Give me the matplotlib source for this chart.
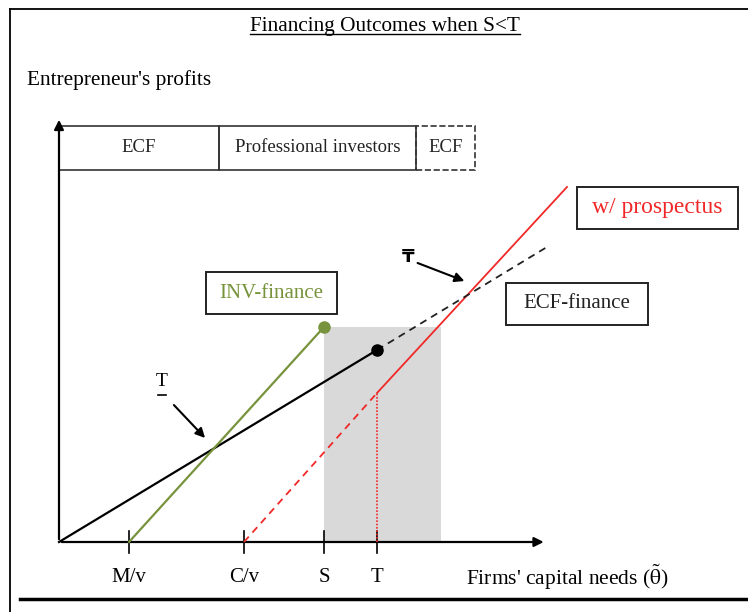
import matplotlib
matplotlib.use('Agg')
import matplotlib.pyplot as plt
from matplotlib.patches import Rectangle
from matplotlib.lines import Line2D

plt.rcParams['mathtext.fontset'] = 'stix'
serif = 'Liberation Serif'

# tick positions on the capital-needs axis
tick_names = ['M/v', 'C/v', 'S', 'T']
tick_pos = [1.4, 3.7, 5.3, 6.36]

# line segments (x, y)
black_x = [0, 6.36]
black_y = [0, 3.84]
black_dash_x = [6.36, 9.76]
black_dash_y = [3.84, 5.9]
green_x = [1.4, 5.3]
green_y = [0, 4.3]
red_dash_x = [3.7, 6.36]
red_dash_y = [0, 2.98]
red_x = [6.36, 10.16]
red_y = [2.98, 7.1]

# shaded region
shade_x = [5.3, 7.64]
shade_top = 4.3

# band of financing regimes at the top
band_names = ['ECF', 'Professional investors', 'ECF']
band_edges = [0, 3.2, 7.14, 8.32]
band_y = [7.44, 8.32]

green = '#77933c'
red = '#f02828'

fig = plt.figure(figsize=(7.48, 6.12), dpi=100)
ax = fig.add_axes([0, 0, 1, 1])
ax.set_xlim(-1.18, 13.78)
ax.set_ylim(-1.4, 10.84)
ax.axis('off')

# frame of the picture
fig.add_artist(Line2D([10/748, 1], [1 - 9/612, 1 - 9/612], color='black', lw=1.3))
fig.add_artist(Line2D([10/748, 10/748], [0, 1 - 9/612], color='black', lw=1.3))
fig.add_artist(Line2D([20/748, 1], [13/612, 13/612], color='black', lw=2.5))

# title with underline
title = fig.text(0.515, 1 - 26/612, 'Financing Outcomes when S<T', ha='center', va='center',
                 family=serif, fontsize=15.3)
fig.canvas.draw()
bb = title.get_window_extent().transformed(fig.transFigure.inverted())
fig.add_artist(Line2D([bb.x0, bb.x1], [bb.y0 + 0.002, bb.y0 + 0.002], color='black', lw=1))

fig.text(27/748, 1 - 80/612, "Entrepreneur's profits", ha='left', va='center',
         family=serif, fontsize=15.3)

# shaded area
ax.add_patch(Rectangle((shade_x[0], 0), shade_x[1] - shade_x[0], shade_top,
                       facecolor='#d9d9d9', edgecolor='none', zorder=1))

# axes arrows
ax.annotate('', xy=(0, 8.5), xytext=(0, 0),
            arrowprops=dict(arrowstyle='-|>', color='black', lw=1.6, mutation_scale=14), zorder=3)
ax.annotate('', xy=(9.75, 0), xytext=(0, 0),
            arrowprops=dict(arrowstyle='-|>', color='black', lw=1.6, mutation_scale=14), zorder=3)

# ticks and their labels
for name, xp in zip(tick_names, tick_pos):
    ax.plot([xp, xp], [-0.22, 0.22], color='black', lw=1.2, zorder=3)
    ax.text(xp, -0.72, name, ha='center', va='center', family=serif, fontsize=15)
ax.text(8.14, -0.7, r"Firms' capital needs ($\mathrm{\tilde{\theta}}$)", ha='left', va='center',
        family=serif, fontsize=15.5)

# regime band
for i, name in enumerate(band_names):
    ls = '--' if i == 2 else '-'
    ax.add_patch(Rectangle((band_edges[i], band_y[0]), band_edges[i + 1] - band_edges[i],
                           band_y[1] - band_y[0], facecolor='none', edgecolor='#333333',
                           lw=1.2, ls=ls, zorder=2))
    ax.text((band_edges[i] + band_edges[i + 1]) / 2, (band_y[0] + band_y[1]) / 2, name,
            ha='center', va='center', family=serif, fontsize=13.5, color='#222222')

# lines
ax.plot(red_dash_x, red_dash_y, color=red, lw=1.3, ls=(0, (4, 3)), zorder=3)
ax.plot(red_x, red_y, color=red, lw=1.3, zorder=3)
ax.plot([tick_pos[3], tick_pos[3]], [0, red_y[0]], color=red, lw=1.2, ls=(0, (1, 1)), zorder=3)
ax.plot(black_dash_x, black_dash_y, color='#222222', lw=1.3, ls=(0, (4, 3)), zorder=3)
ax.plot(black_x, black_y, color='black', lw=1.6, zorder=4)
ax.plot(black_x[-1], black_y[-1], 'o', color='black', ms=8, zorder=5)
ax.plot(green_x, green_y, color=green, lw=1.6, zorder=4)
ax.plot(green_x[-1], green_y[-1], 'o', color=green, ms=8, zorder=5)

# labelled boxes
boxes = [('INV-finance', 2.94, 4.56, 5.56, 5.4, green, 15),
         ('ECF-finance', 8.94, 4.34, 11.78, 5.18, '#222222', 15),
         ('w/ prospectus', 10.36, 6.26, 13.58, 7.1, red, 17)]
for name, x0, y0, x1, y1, c, fs in boxes:
    ax.add_patch(Rectangle((x0, y0), x1 - x0, y1 - y0, facecolor='white',
                           edgecolor='#222222', lw=1.4, zorder=2))
    ax.text((x0 + x1) / 2, (y0 + y1) / 2, name, ha='center', va='center',
            family=serif, fontsize=fs, color=c, zorder=3)

# threshold markers
ax.text(2.06, 3.2, 'T', ha='center', va='center', family=serif, fontsize=14)
ax.plot([1.98, 2.14], [2.94, 2.94], color='black', lw=1.2)
ax.annotate('', xy=(2.96, 2.04), xytext=(2.26, 2.78),
            arrowprops=dict(arrowstyle='-|>', color='black', lw=1.5, mutation_scale=14))
ax.text(6.98, 5.7, '\u20b8', ha='center', va='center', family='DejaVu Sans',
        fontweight='bold', fontsize=13)
ax.annotate('', xy=(8.16, 5.2), xytext=(7.12, 5.6),
            arrowprops=dict(arrowstyle='-|>', color='black', lw=1.5, mutation_scale=14))

fig.savefig('out.png', dpi=100)
